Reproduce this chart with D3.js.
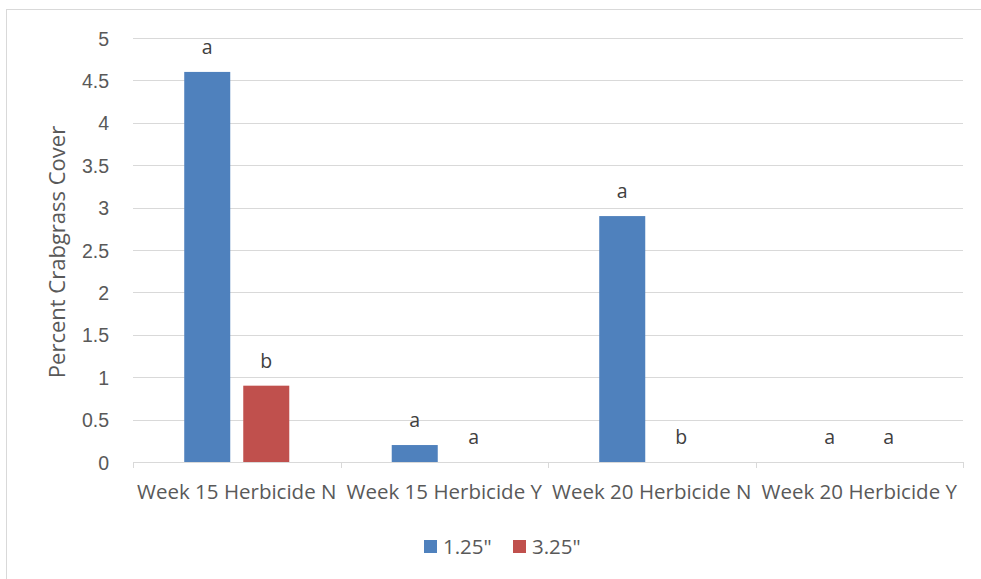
<!DOCTYPE html>
<html>
<head>
<meta charset="utf-8">
<script src="https://cdn.jsdelivr.net/npm/d3@7/dist/d3.min.js"></script>
<style>
  html, body { margin: 0; padding: 0; background: #fff; }
  svg { display: block; font-family: "Open Sans", "Noto Sans", sans-serif; }
</style>
</head>
<body>
<svg id="chart" width="981" height="579"></svg>
<script>
// Crabgrass cover by timing/herbicide treatment and mowing height
const categories = ["Week 15 Herbicide N", "Week 15 Herbicide Y", "Week 20 Herbicide N", "Week 20 Herbicide Y"];
const seriesNames = ["1.25\"", "3.25\""];
const seriesColors = ["#4f81bd", "#c0504d"];
const values125 = [4.6, 0.2, 2.9, 0];
const values325 = [0.9, 0, 0, 0];
const letters125 = ["a", "a", "a", "a"];
const letters325 = ["b", "a", "b", "a"];
const yTicks = [0, 0.5, 1, 1.5, 2, 2.5, 3, 3.5, 4, 4.5, 5];
const yTitle = "Percent Crabgrass Cover";

const seriesValues = [values125, values325];
const seriesLetters = [letters125, letters325];

const svg = d3.select("#chart");
const textColor = "#595959";
const gridColor = "#d9d9d9";

// chart frame
svg.append("rect")
  .attr("x", 6.5).attr("y", 9.5)
  .attr("width", 980).attr("height", 575)
  .attr("fill", "#fff").attr("stroke", gridColor).attr("stroke-width", 1);

const plot = { left: 133, right: 963, top: 38, bottom: 462 };

const y = d3.scaleLinear().domain([0, 5]).range([plot.bottom, plot.top]);
const x = d3.scaleBand().domain(categories).range([plot.left, plot.right]).padding(0);
const inner = d3.scaleBand().domain(d3.range(seriesNames.length))
  .range([0, x.bandwidth()]).paddingInner(13 / 59).paddingOuter(0.868);

// gridlines
svg.append("g")
  .selectAll("line").data(yTicks.filter(d => d > 0)).join("line")
  .attr("x1", plot.left).attr("x2", plot.right)
  .attr("y1", d => Math.round(y(d)) + 0.5).attr("y2", d => Math.round(y(d)) + 0.5)
  .attr("stroke", gridColor).attr("stroke-width", 1);

// y axis labels
const yAxis = d3.axisLeft(y).tickValues(yTicks).tickSize(0).tickPadding(0).tickFormat(d3.format("~g"));
const yg = svg.append("g").attr("transform", `translate(${plot.left - 24},0)`).call(yAxis);
yg.select(".domain").remove();
yg.selectAll("text").attr("fill", textColor).style("font-size", "19.5px").attr("dy", "0.36em");

// x axis with category-boundary ticks
const xg = svg.append("g");
xg.append("line")
  .attr("x1", plot.left).attr("x2", plot.right)
  .attr("y1", plot.bottom + 0.5).attr("y2", plot.bottom + 0.5)
  .attr("stroke", gridColor);
const bounds = categories.map(c => x(c)).concat([plot.right]);
xg.selectAll("line.tick").data(bounds).join("line").attr("class", "tick")
  .attr("x1", d => Math.round(d) + 0.5).attr("x2", d => Math.round(d) + 0.5)
  .attr("y1", plot.bottom).attr("y2", plot.bottom + 6)
  .attr("stroke", gridColor);
xg.selectAll("text").data(categories).join("text")
  .attr("x", d => x(d) + x.bandwidth() / 2)
  .attr("y", 499)
  .attr("text-anchor", "middle")
  .attr("fill", textColor)
  .style("font-size", "20.5px")
  .text(d => d);

// bars and significance letters
seriesNames.forEach((name, si) => {
  const g = svg.append("g");
  g.selectAll("rect").data(categories).join("rect")
    .attr("x", (c) => x(c) + inner(si))
    .attr("y", (c, i) => y(seriesValues[si][i]))
    .attr("width", inner.bandwidth())
    .attr("height", (c, i) => y(0) - y(seriesValues[si][i]))
    .attr("fill", seriesColors[si]);
  g.selectAll("text").data(categories).join("text")
    .attr("x", c => x(c) + inner(si) + inner.bandwidth() / 2)
    .attr("y", (c, i) => y(seriesValues[si][i]) - 18)
    .attr("text-anchor", "middle")
    .attr("fill", "#404040")
    .style("font-size", "19.5px")
    .text((c, i) => seriesLetters[si][i]);
});

// y axis title
svg.append("text")
  .attr("transform", `translate(65,${(plot.top + plot.bottom) / 2 + 2}) rotate(-90)`)
  .attr("text-anchor", "middle")
  .attr("fill", textColor)
  .style("font-size", "22px")
  .text(yTitle);

// legend
const legend = svg.append("g").attr("transform", "translate(424,540)");
const legendX = [0, 89];
seriesNames.forEach((name, i) => {
  legend.append("rect").attr("x", legendX[i]).attr("y", 0).attr("width", 13).attr("height", 13)
    .attr("fill", seriesColors[i]);
  legend.append("text").attr("x", legendX[i] + 19).attr("y", 13.5)
    .attr("fill", textColor).style("font-size", "20.5px").text(name);
});
</script>
</body>
</html>
